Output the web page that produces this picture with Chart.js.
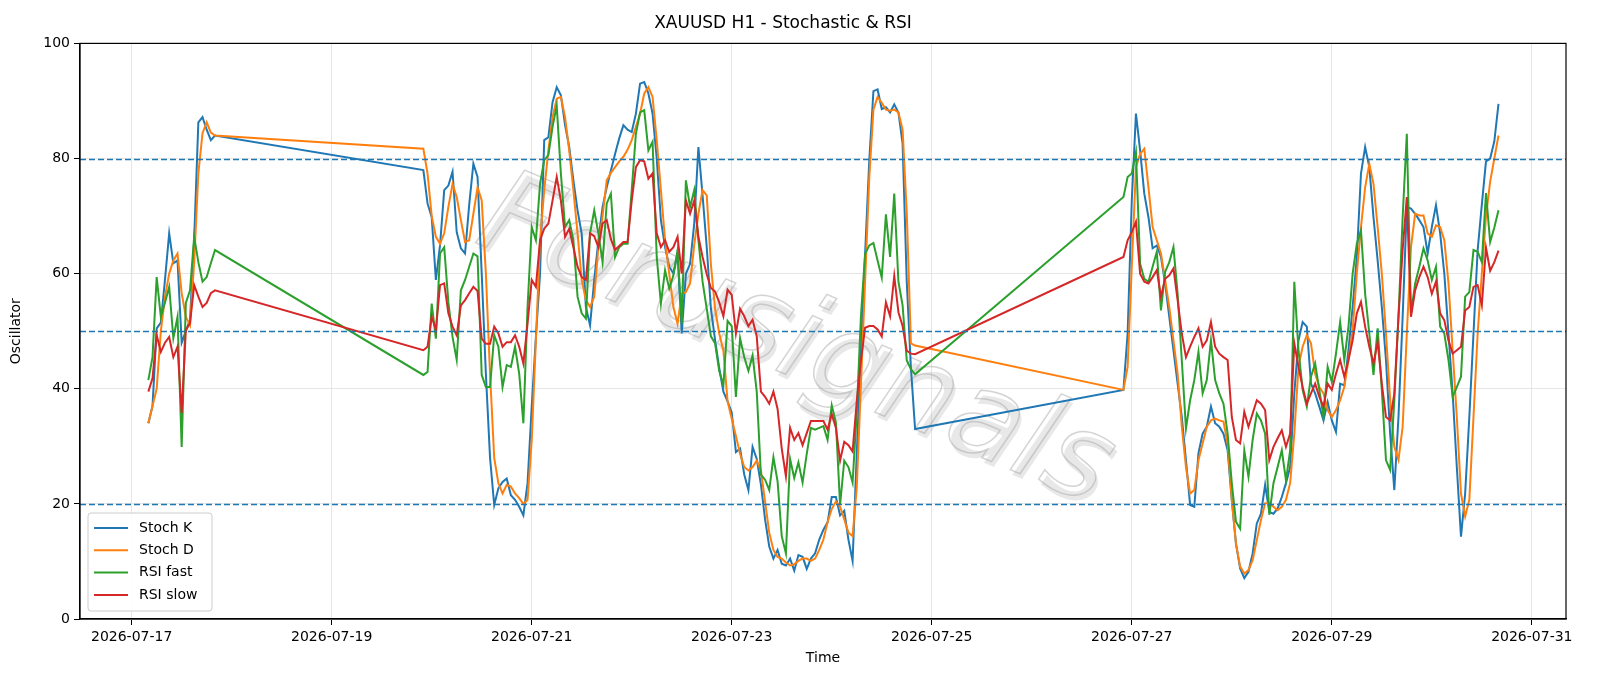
<!DOCTYPE html>
<html><head><meta charset="utf-8">
<script src="https://cdn.jsdelivr.net/npm/chart.js@4/dist/chart.umd.min.js"></script>
<style>html,body{margin:0;padding:0;background:#fff}#c{display:block}</style>
</head><body>
<canvas id="c" width="1600" height="686"></canvas>
<script>
// hourly segments (hours since 2026-07-17 00:00 UTC); weekend/market gaps between
const segments = [[4, 20], [70, 188], [238, 328]];
const tickHours = [0, 48, 96, 144, 192, 240, 288, 336];
const tickLabels = ['2026-07-17','2026-07-19','2026-07-21','2026-07-23','2026-07-25','2026-07-27','2026-07-29','2026-07-31'];

const stochK = [
 34,37,50.5,51.5,59,67,61.8,62.3,48,50,52,66,86.3,87.2,85,83.2,84,
 78,72.2,69.8,58.9,64.9,74.5,75.3,77.7,67.2,64.4,63.5,72,79.1,76.8,60,42.6,28,19.8,22.7,23.8,
 24.4,21.5,20.7,19.5,18,23.6,36.9,49,60,83.2,83.7,89.8,92.4,91,85.8,82,76.2,71,66.9,54.2,
 51,58.9,65.8,71.6,75,77.9,80.8,83.5,85.8,85,84.6,87.8,93,93.3,91.3,87.8,80,69.3,64.6,61.2,
 60,63.5,49.6,60,61.7,68.7,82,
 73.6,64.6,53.9,48.5,43.6,39.5,37.8,35.9,29,29.6,25.1,22.4,29.9,27.8,23.4,17.3,12.6,10.5,12,9.6,
 9.3,10.5,8.4,11.1,10.8,8.7,10.5,11.4,13.8,15.5,16.8,21.2,21.2,18,18.8,13.8,10.1,28.7,46.6,63.4,
 79.6,91.7,92,88.6,88.9,88,89.4,88,82.6,58.6,43.6,33,
 39.8,49.6,72.7,87.8,81.4,73.9,69.8,64.4,64.9,62.9,58.3,52.5,46.7,40.9,35.1,27.6,19.8,19.5,28.8,32.2,
 33.4,36.9,34,33.4,32.2,29.3,20.7,13.1,8.8,7.1,8.2,11.4,16.6,18.3,23.3,18.6,18.3,19.2,21.2,23.6,
 26.4,39.2,48.4,51.6,50.8,40.9,39.2,36.9,34.5,37.7,34.5,32.5,40.9,40.6,46.7,54.2,62.9,77.4,82,78.5,
 69.8,62.3,54.2,45,32.2,22.4,35.1,52.5,71.6,71.3,70.4,69.3,68.1,63.5,68.1,71.9,67,60,49.6,39.2,
 26.4,14.3,21.8,35.1,49.6,64.1,72,79.5,80,83,89.5];
const stochD = [
 34,37,40,50,56,60,62.3,63.5,56.6,52.5,51,62,77.4,84.4,86.3,84.5,84,
 81.7,77.4,70,66.4,65.2,67,71.6,75.6,73.3,69.3,65.5,65.8,70.4,75,72.7,60,42.6,28,23.6,21.8,
 23.3,23,21.8,21,20,20.7,31,48.4,65.8,74.5,81.4,87.2,90.4,90.7,87.2,81.4,74.5,67,58.9,55.4,
 54.2,56,64.6,70,76.2,77.5,78.5,79.5,80.3,81.5,83.2,85.5,87.8,91.3,92.4,90.7,83.2,74.5,65.8,60,
 54.2,51.3,56.5,56.8,58.3,65,70.4,
 74.5,73.6,61.6,53.9,49.6,46.6,37.8,34.8,31.8,28.7,26.4,25.8,26.4,27.5,25.8,20.4,15,12,10.8,10.5,
 9.8,9.3,9.5,10.1,10.5,10.5,10.1,10.5,12,13.8,16.8,19.1,20.4,19.5,17.3,15,14.4,22.8,40.6,58.6,
 76.6,88.5,90.7,89.7,88.5,88.3,88.5,88,85,70.6,47.9,47.5,
 39.8,43.8,61.2,78.5,80.8,81.7,75,68.1,65.8,63.5,58.9,54.2,48.4,42.6,33.4,26.4,21.8,22.4,27.6,30.5,
 33.4,34.5,34.8,34.5,34.3,30.5,20.7,13.1,9.1,7.9,8.5,10.2,13.7,17.2,20.1,20.1,19.5,18.9,19.5,20.7,
 23.6,32.2,43.8,47.3,49.3,47.9,42.6,40.3,39.2,36.3,35.1,36.3,38,40.3,45,50.2,60,68.1,75,79.1,
 75.6,68.1,60,49.6,38,29.9,27.6,33.4,49.6,64.6,70.4,70.1,70.1,67,66.4,68.4,68.1,65.8,58.3,46.7,
 35.1,21.8,17.8,20.7,35.1,49.6,60,70,76,80,84];
const rsiFast = [
 41.5,45.5,59.4,52.5,55,57.7,48.8,52.5,29.9,54.9,57.1,66.4,62,58.6,59.4,61.8,64.1,
 42.4,42.9,54.8,48.7,63.5,64.6,55,49,45,57.1,58.9,61.2,63.5,63,42.4,40.3,40.3,49.3,47.3,40.3,
 44.1,43.8,47.3,42.6,34,54.2,68.1,65.8,75.6,79.7,80.6,85.5,89.2,77.4,68.1,69.3,65.8,56,53.1,52.2,
 67,71,67,62,72.2,73.9,62.9,64.6,65.2,65.2,74.5,84.3,88,88.4,81.4,82.9,62.9,54.8,60.6,57.4,
 59.7,64.1,51.3,76.2,71.6,74.5,65.8,
 58.6,53.9,49.1,47.9,43.1,40.6,51.8,50.9,38.6,48.8,45.5,43.1,45.8,39.5,25.1,24.2,22.4,28.1,23.9,14.4,
 11.4,27.8,24.5,27.2,23.7,28.7,33.2,32.9,33.2,33.5,31.1,37.1,34.1,19.8,27.5,26.4,23.7,35.9,52.6,63.4,
 64.9,65.3,62.3,59.3,70.3,62.9,73.9,58.6,54.5,44.9,43.4,42.5,
 73.3,76.8,77.4,81.1,61.7,59.1,58.6,61.2,63.8,53.6,60.3,62,64.6,56.5,45,33.1,38,41.5,46.4,39.2,
 41.5,48.4,41.5,39.2,37.4,32.2,23.6,16.9,15.7,29.3,24.7,31.1,35.7,34.5,32.2,18.1,23.6,26.4,29.3,24.1,
 29.3,58.6,46.7,39.8,36.9,42.1,44.4,39.8,35.1,43.8,41.2,46.1,51.6,45,50.8,60,65.2,67.5,56.5,49.6,
 42.4,50.5,39.8,27.6,25.9,38,52.5,69.8,84.3,53.1,58.3,61.2,64.4,62.3,58.9,61.2,50.8,49.6,45,38.6,
 40.3,42.1,56,56.8,64.1,63.8,62,74,65.5,68,71];
const rsiSlow = [
 39.5,41.8,49.3,46.4,48,49,45.5,47.3,35.8,50.2,51.4,58,56,54.2,54.9,56.6,57.1,
 46.7,47.3,52.5,50.2,58,58.3,53.1,50.8,49.3,54.5,55.4,56.6,57.7,57,48.7,47.8,47.8,50.8,49.6,47.3,
 48.1,48.1,49.3,47.3,44.4,51.3,58.9,57.7,65.8,67.8,68.7,72.7,76.8,72.7,66.4,67.8,64.6,61.2,59.4,58.9,
 67,66.5,64.6,68.7,69.3,66,64.1,64.8,65.5,65.5,72.7,78.5,79.7,79.5,76.5,77.4,67,64.6,65.8,63.8,
 64.6,66.4,60,72.7,70.4,72.7,66.4,
 62.9,59.9,57.5,56.9,55,52.6,57.2,56.3,49.6,53.9,52.6,50.9,52,49.1,39.5,38.6,37.4,39.5,36.5,29.6,
 24.8,33.2,31.1,32.3,30.2,32.3,34.4,34.4,34.4,34.4,32.9,35.6,33.2,27.5,30.8,30.2,29.1,37.8,44.9,50.6,
 50.9,50.9,50.3,49.1,55,52.6,59.6,53.3,50.9,46.6,46.1,46,
 62.9,65.8,67.2,69,60,58.6,58.3,59.4,60.6,56,59.1,59.7,60.9,55.4,49.6,45.5,47.3,49,50.5,47.3,
 48.4,51.6,47.3,46.1,45.5,45,35.1,31.1,30.5,36,33.4,35.7,38,37.4,36.3,27.6,29.9,31.4,32.8,29.9,
 32.2,47.9,43.8,40.3,37.4,39.2,40.9,38.6,36.9,40.9,39.8,42.6,45,42.1,45,48.4,53.1,55.1,50.8,47.3,
 44.4,48.1,40.9,35.1,34.5,39.2,52.5,64.1,73.3,52.5,57.1,59.4,61.2,59.4,56.5,58.6,53.1,51.9,48.4,46.1,
 46.7,47.3,53.6,54.2,57.7,58,54.5,64.5,60.5,62,64];
const levels = [20, 50, 80];
const seriesNames = ['Stoch K','Stoch D','RSI fast','RSI slow'];
const colors = ['#1f77b4','#ff7f0e','#2ca02c','#d62728'];

const hours = [];
segments.forEach(([a,b]) => { for (let h = a; h <= b; h++) hours.push(h); });
const toPts = arr => arr.map((v,i) => ({x: hours[i], y: v}));
const seriesVals = [stochK, stochD, rsiFast, rsiSlow];

const FONT = 'DejaVu Sans';
const extras = {
  id: 'extras',
  beforeDatasetsDraw(chart) {
    const {ctx, chartArea: a} = chart;
    ctx.save();
    ctx.beginPath(); ctx.rect(a.left, a.top, a.right - a.left, a.bottom - a.top); ctx.clip();
    ctx.translate(795, 345); ctx.rotate(23 * Math.PI / 180);
    ctx.font = 'italic 118px "' + FONT + '"';
    ctx.textAlign = 'center'; ctx.textBaseline = 'middle';
    ctx.fillStyle = 'rgba(150,150,150,0.22)';
    ctx.fillText('Forusignals', 4, 4);
    ctx.fillStyle = 'rgba(255,255,255,0.6)';
    ctx.strokeStyle = 'rgba(170,170,170,0.5)'; ctx.lineWidth = 1.5;
    ctx.strokeText('Forusignals', 0, 0);
    ctx.restore();
  },
  afterDatasetsDraw(chart) {
    const {ctx, chartArea: a, scales: {y}} = chart;
    ctx.save();
    ctx.strokeStyle = '#1f77b4'; ctx.lineWidth = 1.4; ctx.setLineDash([6, 3]);
    levels.forEach(l => { const py = Math.round(y.getPixelForValue(l)) + 0.5;
      ctx.beginPath(); ctx.moveTo(a.left, py); ctx.lineTo(a.right, py); ctx.stroke(); });
    ctx.setLineDash([]);
    ctx.strokeStyle = '#000'; ctx.lineWidth = 1.2;
    ctx.strokeRect(a.left, a.top, a.right - a.left, a.bottom - a.top);
    const lx = a.left + 8, ly = a.bottom - 106, lw = 124, lh = 98;
    ctx.fillStyle = 'rgba(255,255,255,0.85)'; ctx.strokeStyle = '#cccccc'; ctx.lineWidth = 1;
    ctx.beginPath(); ctx.roundRect(lx, ly, lw, lh, 3); ctx.fill(); ctx.stroke();
    ctx.font = '14px "' + FONT + '"'; ctx.textBaseline = 'middle'; ctx.textAlign = 'left';
    seriesNames.forEach((n, i) => {
      const cy = ly + 15 + i * 22.3;
      ctx.strokeStyle = colors[i]; ctx.lineWidth = 2;
      ctx.beginPath(); ctx.moveTo(lx + 6, cy); ctx.lineTo(lx + 40, cy); ctx.stroke();
      ctx.fillStyle = '#000'; ctx.fillText(n, lx + 51, cy);
    });
    ctx.restore();
  }
};

new Chart(document.getElementById('c'), {
  type: 'line',
  data: { datasets: seriesVals.map((v, i) => ({
    label: seriesNames[i], data: toPts(v), borderColor: colors[i], backgroundColor: colors[i],
    borderWidth: 2, pointRadius: 0, tension: 0, order: 4 - i })) },
  options: {
    responsive: false, animation: false, devicePixelRatio: 1,
    layout: { padding: { right: 34, left: 0, bottom: 15 } },
    plugins: {
      legend: { display: false }, tooltip: { enabled: false },
      title: { display: true, text: 'XAUUSD H1 - Stochastic & RSI', color: '#000',
        font: { family: FONT, size: 17, weight: 'normal' }, padding: { top: 13, bottom: 10 } }
    },
    scales: {
      x: { type: 'linear', min: -12.4, max: 344.2,
        afterBuildTicks: s => { s.ticks = tickHours.map(v => ({value: v})); },
        afterFit: s => { s.height = 52; },
        ticks: { color: '#000', font: { family: FONT, size: 14 }, maxRotation: 0, autoSkip: false, padding: 4,
          callback: v => tickLabels[tickHours.indexOf(v)] },
        grid: { color: '#e6e6e6', tickColor: '#000', tickLength: 6, drawTicks: true },
        border: { color: '#000', width: 1.2 },
        title: { display: true, text: 'Time', color: '#000', font: { family: FONT, size: 14 }, padding: { top: 2, bottom: 4 } } },
      y: { min: 0, max: 100,
        afterBuildTicks: s => { s.ticks = [0,20,40,60,80,100].map(v => ({value: v})); },
        afterFit: s => { s.width = 80; },
        ticks: { color: '#000', font: { family: FONT, size: 14 }, padding: 4 },
        grid: { color: '#e6e6e6', tickColor: '#000', tickLength: 6 },
        border: { color: '#000', width: 1.2 },
        title: { display: true, text: 'Oscillator', color: '#000', font: { family: FONT, size: 14 }, padding: { top: 8, bottom: 0 } } }
    }
  },
  plugins: [extras]
});
</script>
</body></html>
